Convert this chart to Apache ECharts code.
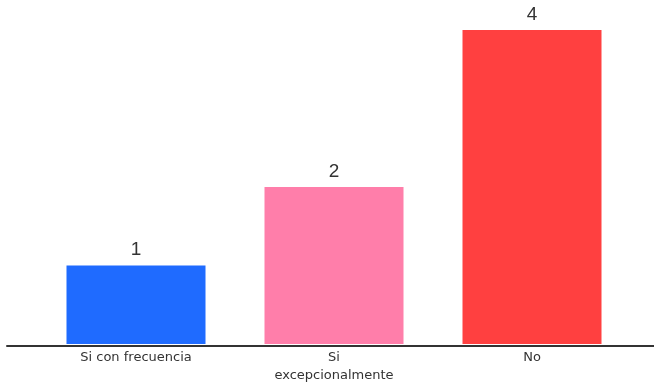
<!DOCTYPE html>
<html>
<head>
<meta charset="utf-8">
<script src="https://cdn.jsdelivr.net/npm/echarts@6/dist/echarts.min.js"></script>
<style>
  html, body { margin: 0; padding: 0; background: #ffffff; }
  #chart { width: 654px; height: 385px; }
</style>
</head>
<body>
<div id="chart"></div>
<script>
const categories = ['Si con frecuencia', 'Si\nexcepcionalmente', 'No'];
const values = [1, 2, 4];
const barColors = ['#1f6bff', '#ff7eaa', '#ff4040'];

const chart = echarts.init(document.getElementById('chart'));
chart.setOption({
  animation: false,
  grid: [
    { left: 37, right: 23, top: 30, bottom: 40 },
    { left: 7, right: 0, top: 30, bottom: 39 }
  ],
  xAxis: [
    {
      type: 'category',
      gridIndex: 0,
      data: categories,
      axisLine: { show: false },
      axisTick: { show: false },
      axisLabel: {
        color: '#333333',
        fontSize: 13,
        fontFamily: 'DejaVu Sans',
        margin: 5,
        lineHeight: 18,
        interval: 0
      }
    },
    {
      type: 'category',
      gridIndex: 1,
      data: [''],
      axisLine: { show: true, lineStyle: { color: '#333333', width: 2 } },
      axisTick: { show: false },
      axisLabel: { show: false }
    }
  ],
  yAxis: [
    { type: 'value', gridIndex: 0, min: 0, max: 4, show: false },
    { type: 'value', gridIndex: 1, min: 0, max: 4, show: false }
  ],
  series: [{
    type: 'bar',
    xAxisIndex: 0,
    yAxisIndex: 0,
    barWidth: 139,
    data: values.map((v, i) => ({ value: v, itemStyle: { color: barColors[i] } })),
    label: {
      show: true,
      position: 'top',
      distance: 6,
      color: '#333333',
      fontSize: 19,
      fontFamily: 'Liberation Sans'
    }
  }]
});
</script>
</body>
</html>
